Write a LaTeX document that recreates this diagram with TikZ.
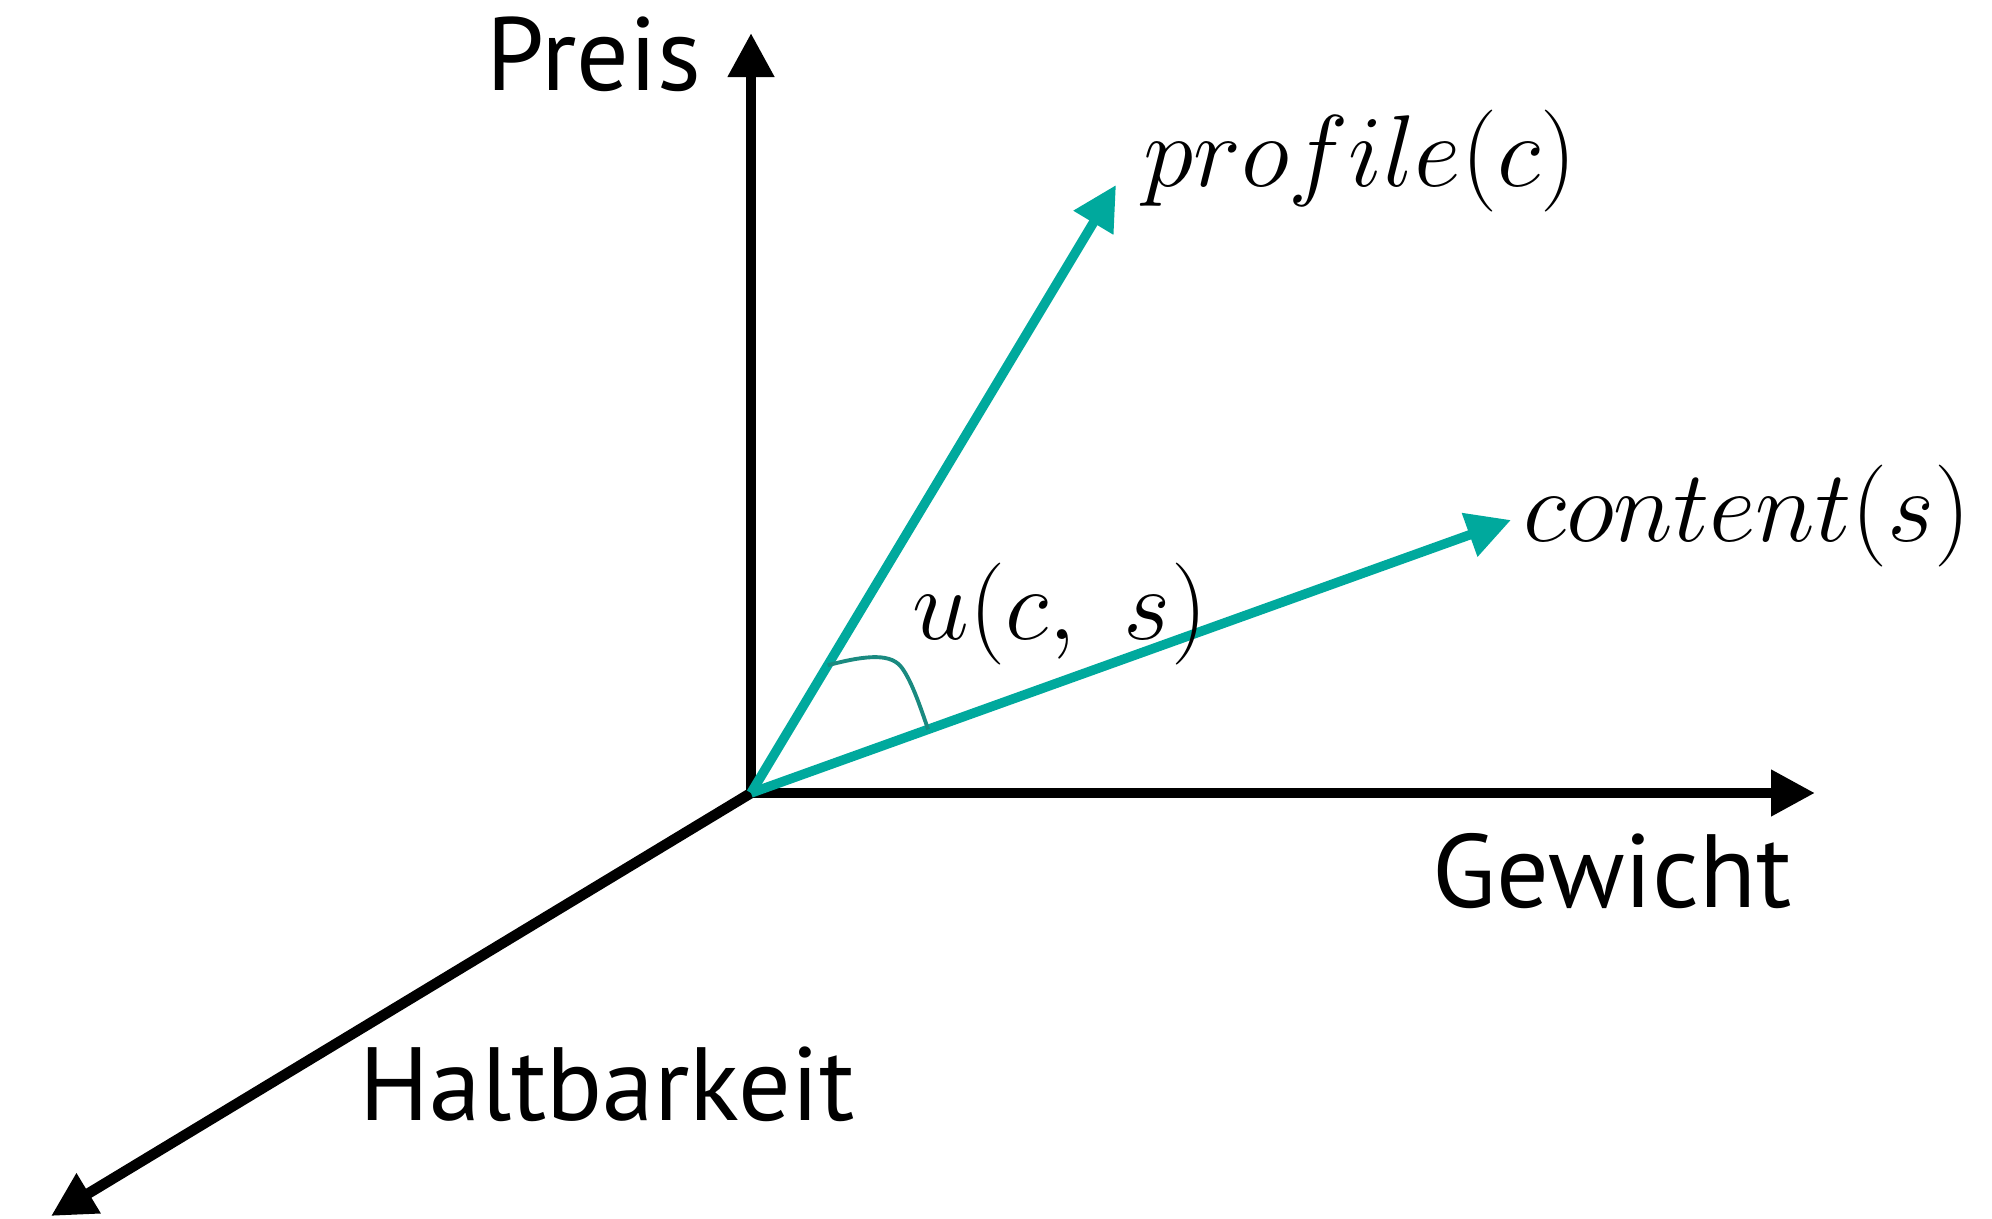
\RequirePackage{fix-cm}
\documentclass[tikz,border=0pt]{standalone}
\usepackage[no-math]{fontspec}
\usepackage{amsmath}
\usetikzlibrary{arrows.meta,calc}
\newfontfamily\axisfont{PT Sans}
\definecolor{vecteal}{RGB}{0,169,157}
\definecolor{arcteal}{RGB}{26,138,128}
\tikzset{
  axisline/.style={line width=3pt,black,-{Triangle[length=0.44cm,width=0.44cm]}},
  vecline/.style={line width=2.7pt,vecteal,-{Triangle[length=0.44cm,width=0.44cm]}},
  anglearc/.style={line width=1.1pt,arcteal},
  axislabel/.style={inner sep=0pt,anchor=base,font=\axisfont\fontsize{29.6}{36}\selectfont},
  veclabel/.style={inner sep=0pt,anchor=base,font=\fontsize{29}{35}\selectfont}
}

\begin{document}
\begin{tikzpicture}[x=0.01cm,y=0.01cm]
\useasboundingbox (0,0) rectangle (1992,1218);
\coordinate (O) at (751,425);
\coordinate (preisTip) at (751,1185);
\coordinate (gewichtTip) at (1815,425);
\coordinate (haltTip) at (51,2);
\coordinate (profTip) at (1116,1033);
\coordinate (contTip) at (1511,698);
\draw[axisline] (O) -- (preisTip);
\draw[axisline] (O) -- (gewichtTip);
\draw[axisline] (O) -- (haltTip);
\draw[vecline] (O) -- (profTip);
\draw[vecline] (O) -- (contTip);
\coordinate (arcA) at ($(O)!0.21!(profTip)$);
\coordinate (arcB) at ($(O)!0.233!(contTip)$);
\draw[anglearc] (arcA) .. controls (870,564) and (892,564) .. (902,550)
  .. controls (912,536) and (920,512) .. (arcB);
\node[axislabel] (preis) at (594,1127) {Preis};
\node[axislabel] (gewicht) at (1612,311) {Gewicht};
\node[axislabel] (halt) at (607,98) {Haltbarkeit};
\node[veclabel] (prof) at (1360,1031) {$profile(c)$};
\node[veclabel] (cont) at (1747,676) {$content(s)$};
\node[veclabel] (util) at (1060,578) {$u(c,\ s)$};
\end{tikzpicture}
\end{document}
